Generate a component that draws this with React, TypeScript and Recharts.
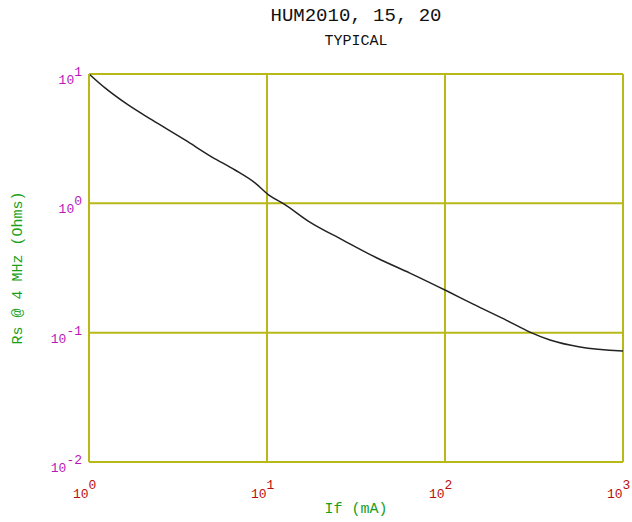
import { LineChart, Line, XAxis, YAxis, CartesianGrid } from 'recharts';

// forward current (mA) and series resistance (Ohms)
const ifValues = [1, 1.23, 1.66, 2.26, 3.46, 4.91, 6.61, 8.56, 10.4, 12.3, 17.4, 26.7, 41.5, 63.5, 104, 144, 223, 300, 389, 573, 1000];
const rsValues = [10, 7.8, 5.76, 4.41, 3.09, 2.28, 1.81, 1.44, 1.14, 1.0, 0.716, 0.52, 0.378, 0.289, 0.208, 0.166, 0.124, 0.101, 0.0877, 0.0774, 0.0721];

const xTicks = [1, 10, 100, 1000];
const yTicks = [0.01, 0.1, 1, 10];

const title = 'HUM2010, 15, 20';
const subtitle = 'TYPICAL';
const xLabel = 'If (mA)';
const yLabel = 'Rs @ 4 MHz (Ohms)';

const data = ifValues.map((v, i) => ({ if: v, rs: rsValues[i] }));

const MONO = '"Liberation Mono", "DejaVu Sans Mono", monospace';
const GRID = '#b8b818';

const XTick = (props: any) => {
  const { x, y, payload } = props;
  const exp = Math.round(Math.log10(payload.value));
  return (
    <text x={x - 16} y={y + 36} fill="#b81010" fontSize={13} fontFamily={MONO} textAnchor="start">
      <tspan>10</tspan>
      <tspan dy={-9}>{exp}</tspan>
    </text>
  );
};

const YTick = (props: any) => {
  const { x, y, payload } = props;
  const exp = Math.round(Math.log10(payload.value));
  return (
    <text x={x - 7} y={y + 10} fill="#b818b8" fontSize={13} fontFamily={MONO} textAnchor="end">
      <tspan>10</tspan>
      <tspan dy={-8}>{exp}</tspan>
    </text>
  );
};

export default function App() {
  return (
    <div style={{ position: 'absolute', left: 0, top: 0, width: 632, height: 522, background: '#fff' }}>
      <LineChart width={632} height={522} data={data} margin={{ top: 74, right: 9, left: 0, bottom: 0 }}>
        <CartesianGrid stroke={GRID} strokeWidth={2} />
        <XAxis
          dataKey="if"
          type="number"
          scale="log"
          domain={[1, 1000]}
          ticks={xTicks}
          height={60}
          tickSize={0}
          tickMargin={0}
          axisLine={{ stroke: GRID, strokeWidth: 2 }}
          tickLine={false}
          tick={<XTick />}
          interval={0}
        />
        <YAxis
          type="number"
          scale="log"
          domain={[0.01, 10]}
          ticks={yTicks}
          width={89}
          tickSize={0}
          tickMargin={0}
          axisLine={{ stroke: GRID, strokeWidth: 2 }}
          tickLine={false}
          tick={<YTick />}
          interval={0}
          allowDataOverflow
        />
        <Line
          dataKey="rs"
          type="monotone"
          stroke="#222"
          strokeWidth={1.5}
          dot={false}
          isAnimationActive={false}
        />
      </LineChart>
      <svg width={632} height={522} style={{ position: 'absolute', left: 0, top: 0, pointerEvents: 'none' }}>
        <text x={356} y={21} textAnchor="middle" fontSize={19} fontFamily={MONO} fill="#111">{title}</text>
        <text x={356} y={45} textAnchor="middle" fontSize={15} fontFamily={MONO} fill="#111">{subtitle}</text>
        <text x={356} y={513} textAnchor="middle" fontSize={15} fontFamily={MONO} fill="#18a018">{xLabel}</text>
        <text x={22} y={268} textAnchor="middle" fontSize={15} fontFamily={MONO} fill="#18a018" transform="rotate(-90 22 268)">{yLabel}</text>
      </svg>
    </div>
  );
}
